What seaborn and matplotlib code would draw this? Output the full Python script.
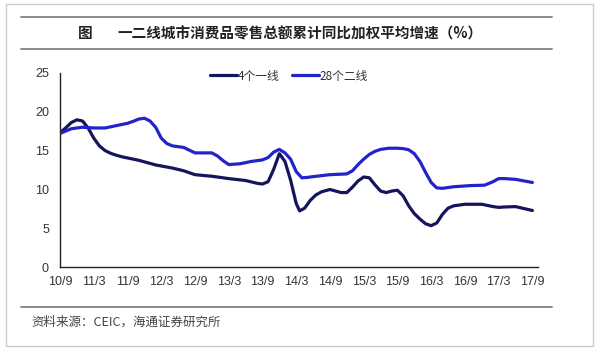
import numpy as np
import pandas as pd
import matplotlib
matplotlib.use('Agg')
import matplotlib.pyplot as plt
import seaborn as sns
from matplotlib.lines import Line2D
from matplotlib.patches import Rectangle

# %%
# 数据: 月份序号 (0 = 2010年9月), 累计同比加权平均增速 (%)
months_tier1 = [0, 1, 2, 3, 4, 5, 6, 7, 8, 9, 10, 11, 14, 17, 20, 22, 24, 27, 30, 33, 35, 36,
                37, 38, 39, 40, 41, 42, 42.6, 43.5, 44.5, 45.5, 46.5, 48, 49, 50, 51, 52, 53,
                54, 55, 56, 57, 58, 59, 60, 61, 62, 63, 64, 65, 66, 67, 68, 69, 70, 72, 75,
                77, 78, 79, 81, 84]
vals_tier1 = [17.3, 17.9, 18.6, 18.95, 18.8, 17.9, 16.6, 15.6, 15.0, 14.65, 14.4, 14.2, 13.75,
              13.15, 12.75, 12.4, 11.9, 11.7, 11.4, 11.15, 10.8, 10.7, 11.0, 12.6, 14.6,
              13.6, 11.2, 8.2, 7.25, 7.6, 8.6, 9.3, 9.7, 10.0, 9.8, 9.6, 9.6, 10.3, 11.1,
              11.6, 11.5, 10.6, 9.8, 9.6, 9.8, 9.9, 9.2, 7.9, 6.9, 6.2, 5.6, 5.35, 5.7, 6.8,
              7.6, 7.9, 8.1, 8.1, 7.8, 7.7, 7.75, 7.8, 7.3]

months_tier2 = [0, 2, 4, 6, 8, 10, 12, 13, 14, 15, 16, 17, 18, 19, 20, 21, 22, 24, 27, 28, 29,
                30, 32, 34, 36, 37, 38, 39, 40, 41, 42, 43, 44, 45, 48, 51, 52, 53, 54, 55,
                56, 57, 58.5, 60, 61, 62, 63, 64, 65, 66, 67, 68, 70, 73, 75.5, 77, 78, 79,
                81, 84]
vals_tier2 = [17.2, 17.8, 18.0, 17.9, 17.9, 18.2, 18.5, 18.75, 19.05, 19.15, 18.8, 18.0, 16.6,
              15.9, 15.6, 15.5, 15.4, 14.7, 14.7, 14.3, 13.7, 13.2, 13.3, 13.6, 13.8, 14.1,
              14.8, 15.15, 14.7, 13.9, 12.3, 11.5, 11.55, 11.65, 11.9, 12.0, 12.4, 13.2, 13.9,
              14.5, 14.9, 15.15, 15.3, 15.3, 15.25, 15.1, 14.6, 13.6, 12.2, 10.9, 10.2, 10.15,
              10.35, 10.5, 10.55, 11.0, 11.4, 11.4, 11.3, 10.9]

tick_months = list(range(0, 85, 6))
tick_labels = ['10/9', '11/3', '11/9', '12/3', '12/9', '13/3', '13/9', '14/3',
               '14/9', '15/3', '15/9', '16/3', '16/9', '17/3', '17/9']

series_names = ['4个一线', '28个二线']

df = pd.concat([
    pd.DataFrame({'month': months_tier1, 'value': vals_tier1, 'series': series_names[0]}),
    pd.DataFrame({'month': months_tier2, 'value': vals_tier2, 'series': series_names[1]}),
])

# %%
sns.set_style('white')
plt.rcParams['font.family'] = ['Liberation Sans', 'Noto Sans CJK SC', 'DejaVu Sans']
cjk = ['Noto Sans CJK SC', 'DejaVu Sans']

palette = {series_names[0]: '#15155c', series_names[1]: '#2323cc'}

fig = plt.figure(figsize=(5.99, 3.52), dpi=100)
ax = fig.add_axes([0.1002, 0.2406, 0.798, 0.5528])

sns.lineplot(data=df, x='month', y='value', hue='series', palette=palette,
             linewidth=2.3, ax=ax, legend=False, solid_capstyle='round',
             solid_joinstyle='round')

ax.set_xlim(0, 85)
ax.set_ylim(0, 25)
ax.set_xticks(tick_months)
ax.set_xticklabels(tick_labels)
ax.set_yticks(range(0, 26, 5))
ax.set_xlabel('')
ax.set_ylabel('')
for s in ['top', 'right']:
    ax.spines[s].set_visible(False)
for s in ['left', 'bottom']:
    ax.spines[s].set_color('#222222')
    ax.spines[s].set_linewidth(1.0)
ax.tick_params(axis='both', direction='out', length=4, width=1, color='#222222',
               labelsize=9, labelcolor='#333333', pad=2)
ax.tick_params(axis='y', pad=4)

handles = [Line2D([], [], color=palette[n], lw=2.3) for n in series_names]
leg = fig.legend(handles, series_names, loc='center', bbox_to_anchor=(0.4825, 0.784),
                 ncol=2, frameon=False, handlelength=2.3, handletextpad=0.1,
                 columnspacing=1.0, prop={'family': cjk, 'size': 8.5})
for t in leg.get_texts():
    t.set_color('#333333')

# 标题, 分隔线, 数据来源
W, H = 599, 352
fig.text(78 / W, 1 - 33 / H, '图', family=cjk, fontsize=10.5, weight='bold',
         va='center', ha='left', color='#222222')
fig.text(117 / W, 1 - 33 / H, '一二线城市消费品零售总额累计同比加权平均增速（%）', family=cjk,
         fontsize=10.5, weight='bold', va='center', ha='left', color='#222222')
for yy in [16.7, 49.3, 306.7]:
    fig.add_artist(Line2D([20.7 / W, 552 / W], [1 - yy / H, 1 - yy / H],
                          color='#8a8a8a', lw=1.4, transform=fig.transFigure))
fig.text(31 / W, 1 - 322.5 / H, '资料来源：CEIC，海通证券研究所', family=cjk,
         fontsize=9, va='center', ha='left', color='#444444')
fig.add_artist(Rectangle((6 / W, 1 - 346 / H), (592.7 - 6) / W, (346 - 4) / H,
                         fill=False, edgecolor='#cccccc', lw=1.0,
                         transform=fig.transFigure))

fig.savefig('out.png', dpi=100)
